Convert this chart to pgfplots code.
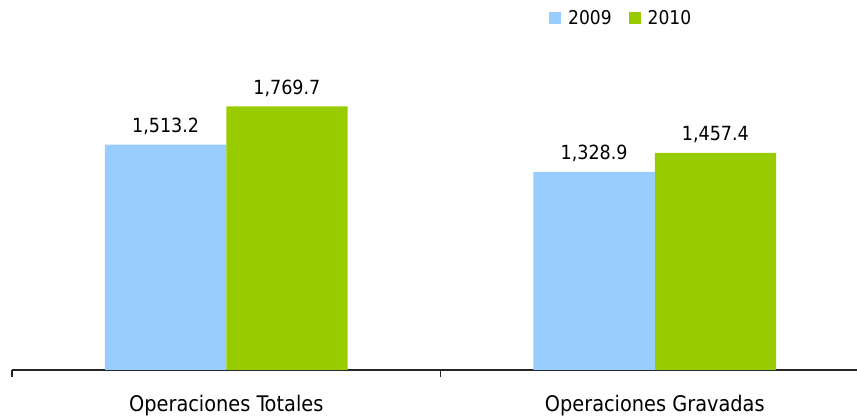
\documentclass[border=0pt]{standalone}
\usepackage{fontspec}
\setmainfont{DejaVu Sans Condensed}
\usepackage{pgfplots}
\pgfplotsset{compat=1.18}
\definecolor{cblue}{HTML}{99CCFF}
\definecolor{cgreen}{HTML}{99CC00}
\begin{document}
\begin{tikzpicture}[x=1pt,y=1pt]
\useasboundingbox (0,0) rectangle (857,420);
\begin{axis}[
  at={(12pt,50pt)}, anchor=south west,
  scale only axis, width=845pt, height=370pt,
  xmin=-0.5, xmax=1.472, ymin=0, ymax=2483,
  axis x line=bottom, axis y line=none,
  axis line style={-, black!85, line width=1.3pt},
  ybar=0pt, bar width=0.283,
  xtick={0,1}, xticklabels={Operaciones Totales, Operaciones Gravadas},
  major tick length=0pt,
  extra x ticks={-0.5,0.5},
  extra x tick labels={},
  extra x tick style={major tick length=7pt, tick style={black!85, line width=1.3pt}, tick pos=bottom, xtick align=outside},
  xticklabel style={font=\fontsize{21.5}{25}\selectfont, anchor=base, yshift=-42pt},
  nodes near coords,
  nodes near coords style={font=\fontsize{19.5}{22}\selectfont, anchor=base, yshift=12pt, /pgf/number format/.cd, fixed, precision=1, fixed zerofill, 1000 sep={,}, assume math mode=true},
  clip=false,
  legend columns=2,
  legend style={draw=none, fill=none, at={(rel axis cs:0.6355,0.95)}, anchor=west, font=\fontsize{19}{22}\selectfont, column sep=0pt, inner sep=0pt, /tikz/every odd column/.append style={column sep=5pt}, /tikz/every even column/.append style={column sep=15pt}},
  legend image code/.code={\fill[#1] (0pt,-5.5pt) rectangle (12pt,6pt);},
]
\addplot[draw=none, fill=cblue] coordinates {(0,1513.2) (1,1328.9)};
\addplot[draw=none, fill=cgreen] coordinates {(0,1769.7) (1,1457.4)};
\legend{2009,2010}
\end{axis}
\end{tikzpicture}
\end{document}
